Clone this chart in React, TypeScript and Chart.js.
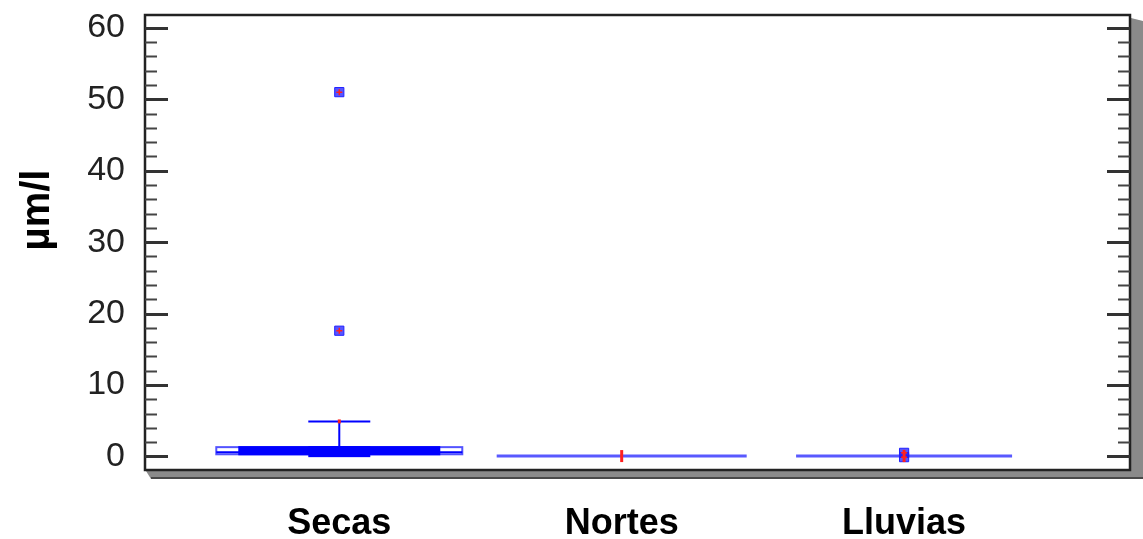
import React, { useEffect, useRef } from "react";
import { Chart, registerables } from "chart.js";

Chart.register(...registerables);

// ---- data ----
const categories = ["Secas", "Nortes", "Lluvias"];
const whiskerLow = [0.1, 0.05, 0.05];
const q1 = [0.3, 0.05, 0.05];
const medians = [0.6, 0.05, 0.05];
const q3 = [1.3, 0.05, 0.05];
const whiskerHigh = [4.9, 0.05, 0.05];
const notchLow = [-0.1, 0.05, 0.05];
const notchHigh = [1.3, 0.05, 0.05];
const means = [4.9, 0.05, 0.05];
const outlierCategory = [1, 1, 3, 3];
const outlierValues = [51.0, 17.6, 0.5, -0.1];
const yTicks = [0, 10, 20, 30, 40, 50, 60];

// ---- styles ----
const BOX_HALF_PX = [123, 125, 108];
const INNER_HALF_PX = [101, 0, 0];
const CAP_HALF_PX = 31;
const BLUE = "#0000ff";
const LIGHT_BLUE = "rgba(60,60,255,0.85)";

const boxPlugin = {
  id: "boxPlugin",
  beforeDatasetsDraw(chart: any) {
    const { ctx, scales } = chart;
    const xs = scales.x;
    const ys = scales.y;
    ctx.save();
    categories.forEach((_, i) => {
      const x = xs.getPixelForValue(i + 1);
      const hw = BOX_HALF_PX[i];
      const yq1 = ys.getPixelForValue(q1[i]);
      const yq3 = ys.getPixelForValue(q3[i]);
      const yHi = ys.getPixelForValue(whiskerHigh[i]);
      const yLo = ys.getPixelForValue(whiskerLow[i]);
      const degenerate = Math.abs(yq1 - yq3) < 1;
      if (degenerate) {
        ctx.strokeStyle = LIGHT_BLUE;
        ctx.lineWidth = 3;
        ctx.beginPath();
        ctx.moveTo(x - hw, yq1);
        ctx.lineTo(x + hw, yq1);
        ctx.stroke();
        return;
      }
      ctx.strokeStyle = BLUE;
      ctx.lineWidth = 2;
      ctx.beginPath();
      ctx.moveTo(x, yq3);
      ctx.lineTo(x, yHi);
      ctx.moveTo(x - CAP_HALF_PX, yHi);
      ctx.lineTo(x + CAP_HALF_PX, yHi);
      ctx.moveTo(x, yq1);
      ctx.lineTo(x, yLo);
      ctx.stroke();
      ctx.strokeStyle = "rgba(40,40,255,0.8)";
      ctx.lineWidth = 2;
      ctx.strokeRect(x - hw, yq3, hw * 2, yq1 - yq3);
      ctx.fillStyle = BLUE;
      const ih = INNER_HALF_PX[i];
      ctx.fillRect(x - ih, yq3 - 1, ih * 2, yq1 - yq3 + 2);
      const yn1 = ys.getPixelForValue(notchLow[i]);
      const yn2 = ys.getPixelForValue(notchHigh[i]);
      ctx.fillRect(x - CAP_HALF_PX, yn2 - 1, CAP_HALF_PX * 2, yn1 - yn2 + 1);
      const ym = ys.getPixelForValue(medians[i]);
      ctx.strokeStyle = BLUE;
      ctx.beginPath();
      ctx.moveTo(x - hw, ym);
      ctx.lineTo(x + hw, ym);
      ctx.stroke();
    });
    ctx.restore();
  },
  afterDatasetsDraw(chart: any) {
    const { ctx, scales, chartArea } = chart;
    const ys = scales.y;
    const { left, right, top, bottom } = chartArea;
    ctx.save();
    ctx.fillStyle = "#8a8a8a";
    ctx.beginPath();
    ctx.moveTo(right + 1, top + 3);
    ctx.lineTo(right + 13, top + 6);
    ctx.lineTo(right + 13, bottom + 9);
    ctx.lineTo(left + 6, bottom + 9);
    ctx.lineTo(left + 1, bottom + 1);
    ctx.lineTo(right + 1, bottom + 1);
    ctx.closePath();
    ctx.fill();
    ctx.strokeStyle = "#333";
    ctx.lineWidth = 1.5;
    ctx.beginPath();
    ctx.moveTo(left + 6, bottom + 8);
    ctx.lineTo(right + 13, bottom + 8);
    ctx.stroke();
    ctx.strokeStyle = "#222";
    ctx.lineWidth = 2.5;
    ctx.strokeRect(left, top, right - left, bottom - top);
    for (let v = 0; v <= 60; v += 2) {
      const y = Math.round(ys.getPixelForValue(v)) + 0.5;
      const major = v % 10 === 0;
      const len = major ? 23 : 12;
      ctx.lineWidth = major ? 3 : 2;
      ctx.strokeStyle = major ? "#333" : "#444";
      ctx.beginPath();
      ctx.moveTo(left, y);
      ctx.lineTo(left + len, y);
      ctx.moveTo(right, y);
      ctx.lineTo(right - len, y);
      ctx.stroke();
    }
    ctx.translate(38, 210);
    ctx.rotate(-Math.PI / 2);
    ctx.fillStyle = "#000";
    ctx.font = "bold 40px 'Liberation Sans', Arial, sans-serif";
    ctx.textAlign = "center";
    ctx.textBaseline = "middle";
    ctx.fillText("µm/l", 0, 0);
    ctx.restore();
  },
};

export default function App() {
  const ref = useRef<HTMLCanvasElement | null>(null);
  useEffect(() => {
    document.body.style.margin = "0";
    document.body.style.overflow = "hidden";
    const canvas = ref.current;
    if (!canvas) return;
    const outlierPts = outlierValues.map((v, i) => ({ x: outlierCategory[i], y: v }));
    const meanPts = means.map((v, i) => ({ x: i + 1, y: v }));
    const chart = new Chart(canvas, {
      type: "scatter",
      data: {
        datasets: [
          {
            label: "means",
            data: meanPts,
            pointStyle: "line",
            rotation: 90,
            pointRadius: [2, 6, 6],
            borderColor: "#ff2020",
            backgroundColor: "#ff2020",
            borderWidth: 3,
          },
          {
            label: "outliers-cross",
            data: outlierPts,
            pointStyle: "cross",
            pointRadius: 3,
            borderColor: "#ff2020",
            borderWidth: 1.5,
          },
          {
            label: "outliers",
            data: outlierPts,
            pointStyle: "rect",
            pointRadius: 6.5,
            backgroundColor: "rgba(30,30,255,0.75)",
            borderColor: "#2020ff",
            borderWidth: 1,
          },
        ],
      },
      options: {
        responsive: false,
        animation: false,
        events: [],
        layout: { padding: { left: 0, top: 15, right: 13, bottom: 0 } },
        plugins: { legend: { display: false }, tooltip: { enabled: false } },
        scales: {
          x: {
            type: "linear",
            min: 0.312,
            max: 3.8,
            grid: { display: false, drawTicks: false },
            border: { display: false },
            afterBuildTicks: (s: any) => {
              s.ticks = categories.map((_, i) => ({ value: i + 1 }));
            },
            afterFit: (s: any) => {
              s.height = 69;
              s.paddingLeft = 0;
              s.paddingRight = 0;
            },
            ticks: {
              autoSkip: false,
              maxRotation: 0,
              padding: 32,
              color: "#000",
              font: { family: "'Liberation Sans', Arial, sans-serif", size: 36, weight: "bold" },
              callback: (v: any) => categories[Math.round(v) - 1] ?? "",
            },
          },
          y: {
            type: "linear",
            min: -1.9,
            max: 61.8,
            grid: { display: false, drawTicks: false },
            border: { display: false },
            afterBuildTicks: (s: any) => {
              s.ticks = yTicks.map((v) => ({ value: v }));
            },
            afterFit: (s: any) => {
              s.width = 145;
              s.paddingTop = 0;
              s.paddingBottom = 0;
            },
            ticks: {
              padding: 20,
              color: "#222",
              font: { family: "'Liberation Sans', Arial, sans-serif", size: 34 },
            },
          },
        },
      },
      plugins: [boxPlugin],
    });
    return () => chart.destroy();
  }, []);
  return (
    <div style={{ width: 1143, height: 539, background: "#fff" }}>
      <canvas ref={ref} width={1143} height={539} />
    </div>
  );
}
